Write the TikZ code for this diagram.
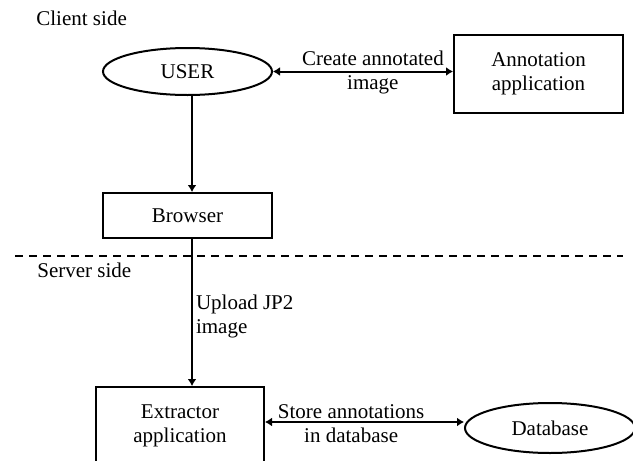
\documentclass[tikz,border=0pt]{standalone}
\usepackage{fontspec}
\setmainfont{Liberation Serif}
\usetikzlibrary{shapes.geometric,arrows.meta}
\begin{document}
\begin{tikzpicture}[x=0.5pt,y=-0.5pt,
  every node/.style={font=\fontsize{10.5pt}{12pt}\selectfont},
  box/.style={draw,line width=1pt,rectangle,inner sep=0pt,minimum width=84.5pt,align=center},
  oval/.style={draw,line width=1pt,ellipse,inner sep=0pt,align=center},
  conn/.style={line width=1pt,-{Latex[length=3.5pt,width=4.5pt]}},
  biconn/.style={line width=1pt,{Latex[length=3.5pt,width=4.5pt]}-{Latex[length=3.5pt,width=4.5pt]}},
  lbl/.style={inner sep=0pt,align=center},
  sep/.style={line width=1pt,dash pattern=on 4pt off 3pt}]
\useasboundingbox (0,0) rectangle (633,461);
\clip (0,0) rectangle (633,461);
% side labels
\node[inner sep=0pt,anchor=base west] (client) at (36,25) {Client side};
\node[inner sep=0pt,anchor=base west] (server) at (37,277) {Server side};
% separator
\coordinate (sepL) at (15,256);
\coordinate (sepR) at (623,256);
\draw[sep] (sepL) -- (sepR);
% nodes
\node[oval,minimum width=84.5pt,minimum height=23.5pt] (user) at (187.5,71.5) {USER};
\node[box,minimum height=39pt] (annot) at (538.5,74) {Annotation\\application};
\node[box,minimum height=22.5pt] (browser) at (187.5,215.5) {Browser};
\node[box,minimum width=84pt,minimum height=39pt] (extractor) at (180,426) {Extractor\\application};
\node[oval,minimum width=85pt,minimum height=25pt] (database) at (550,428) {Database};
% vertical line position
\coordinate (vx) at (192,0);
\coordinate (ay) at (0,422);
% connectors
\draw[biconn] (user.east) -- (user.east -| annot.west)
  node[lbl,pos=0.555,yshift=-0.5pt] (lab1) {Create annotated\\image};
\draw[conn] (vx |- user.south) -- (vx |- browser.north);
\draw[conn] (vx |- browser.south) -- (vx |- extractor.north)
  node[lbl,pos=0.528,anchor=west,xshift=1.5pt,align=left] (lab2) {Upload JP2\\image};
\draw[biconn] (extractor.east |- ay) -- (database.west |- ay)
  node[lbl,pos=0.433,yshift=-0.8pt] (lab3) {Store annotations\\in database};
\end{tikzpicture}
\end{document}
